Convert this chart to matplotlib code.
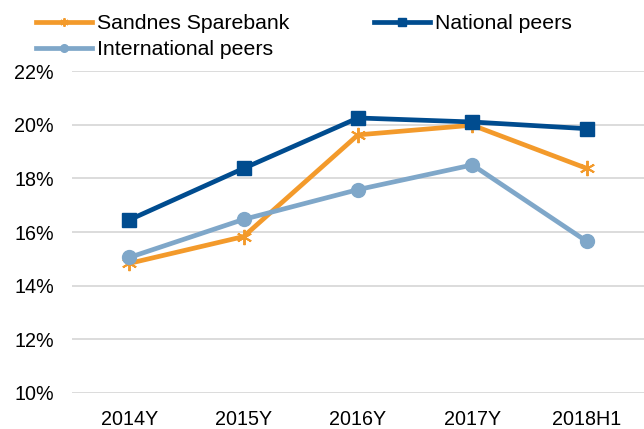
import matplotlib

matplotlib.use("Agg")

import matplotlib.pyplot as plt
from matplotlib.ticker import PercentFormatter

periods = ["2014Y", "2015Y", "2016Y", "2017Y", "2018H1"]

sandnes = [14.83, 15.83, 19.62, 19.98, 18.37]
national = [16.45, 18.37, 20.25, 20.10, 19.85]
international = [15.05, 16.47, 17.58, 18.50, 15.65]

y_ticks = [10, 12, 14, 16, 18, 20, 22]

ORANGE = "#F39A2B"
DARK_BLUE = "#004C8F"
LIGHT_BLUE = "#7FA7C9"
GRID = "#D9D9D9"


def main() -> None:
    plt.rcParams["font.family"] = ["Liberation Sans", "DejaVu Sans"]
    plt.rcParams["font.size"] = 14.2

    fig = plt.figure(figsize=(6.44, 4.29), dpi=100)
    ax = fig.add_axes([72 / 644, 36 / 429, 1 - 72 / 644, (393 - 71) / 429])

    x = range(len(periods))

    ax.plot(
        x,
        sandnes,
        color=ORANGE,
        linewidth=3.4,
        marker=(6, 2, 0),
        markersize=11,
        markeredgewidth=1.4,
        label="Sandnes Sparebank",
        zorder=3,
    )
    ax.plot(
        x,
        international,
        color=LIGHT_BLUE,
        linewidth=3.4,
        marker="o",
        markersize=10,
        label="International peers",
        zorder=4,
    )
    ax.plot(
        x,
        national,
        color=DARK_BLUE,
        linewidth=3.4,
        marker="s",
        markersize=10,
        label="National peers",
        zorder=5,
    )

    ax.set_xlim(-0.5, len(periods) - 0.5)
    ax.set_ylim(y_ticks[0], y_ticks[-1])
    ax.set_xticks(list(x))
    ax.set_xticklabels(periods)
    ax.set_yticks(y_ticks)
    ax.yaxis.set_major_formatter(PercentFormatter(decimals=0))

    ax.grid(axis="y", color=GRID, linewidth=1.3)
    ax.set_axisbelow(True)
    for spine in ax.spines.values():
        spine.set_visible(False)
    ax.tick_params(axis="both", length=0, colors="black")
    ax.tick_params(axis="y", pad=13)
    ax.tick_params(axis="x", pad=12)

    handles, labels = ax.get_legend_handles_labels()
    fig.legend(
        handles,
        labels,
        loc="upper left",
        bbox_to_anchor=(36 / 644, 1 - 14 / 429),
        ncol=2,
        fontsize=15.3,
        frameon=False,
        borderpad=0,
        borderaxespad=0,
        handlelength=2.64,
        handletextpad=0.24,
        columnspacing=3.95,
        labelspacing=0.33,
        markerscale=0.55,
    )

    fig.savefig("out.png", dpi=100)
    plt.close(fig)


if __name__ == "__main__":
    main()
